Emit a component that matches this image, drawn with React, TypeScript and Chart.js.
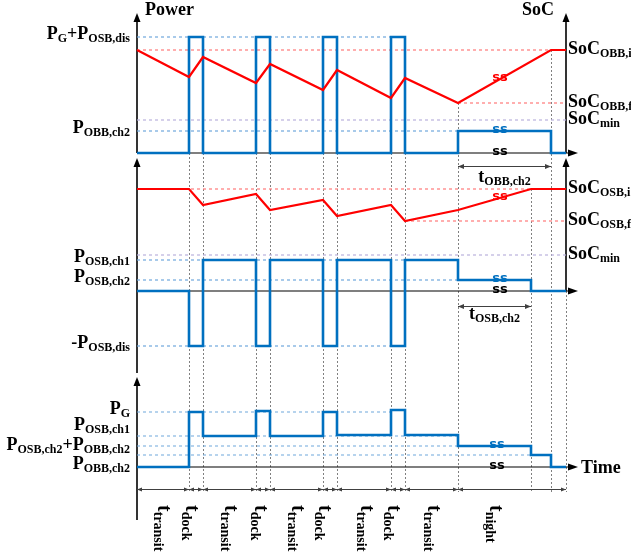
import React, { useEffect, useRef } from 'react';
import { Chart, registerables } from 'chart.js';
Chart.register(...registerables);

// ---------- DATA ----------
// boundaries of the operating phases (time units, 0 = start of first transit)
const eventTimes = [0, 52, 66, 119, 133, 186, 200, 254, 268, 321, 394, 414, 429];
// power held during each interval eventTimes[i] -> eventTimes[i+1]
const obbPower = [0, 116, 0, 116, 0, 116, 0, 116, 0, 22, 22, 0];
const osbPower = [0, -55, 31, -55, 31, -55, 31, -55, 31, 11, 0, 0];
const gridPower = [0, 55, 31, 56, 31, 55, 32, 57, 32, 21, 12, 0];
// state of charge traces
const obbSocTimes = [0, 52, 66, 119, 133, 186, 200, 254, 268, 321, 414, 429];
const obbSoc = [103, 76, 96, 70, 89, 63, 83, 55, 75, 50, 103, 103];
const osbSocTimes = [0, 52, 66, 119, 133, 186, 200, 254, 268, 321, 394, 429];
const osbSoc = [102, 102, 86, 97, 81, 91, 75, 86, 70, 81, 102, 102];

// dashed reference levels
const refPanel = [1, 1, 1, 1, 1, 2, 2, 2, 2, 2, 2, 3, 3, 3, 3];
const refValue = [116, 103, 33, 22, 50, 102, 70, 36, 31, 11, -55, 55, 31, 21, 12];
const refStart = [0, 0, 0, 0, 321, 0, 268, 0, 0, 0, 0, 0, 0, 0, 0];
const refEnd = [268, 429, 429, 321, 429, 429, 429, 429, 321, 321, 254, 254, 321, 321, 394];
const refKind = ['p', 's', 'm', 'p', 's', 's', 's', 'm', 'p', 'p', 'p', 'p', 'p', 'p', 'p'];

// tick labels
const leftLabelText = ['P_{G}+P_{OSB,dis}', 'P_{OBB,ch2}', 'P_{OSB,ch1}', 'P_{OSB,ch2}', '-P_{OSB,dis}', 'P_{G}', 'P_{OSB,ch1}', 'P_{OSB,ch2}+P_{OBB,ch2}', 'P_{OBB,ch2}'];
const leftLabelPanel = [1, 1, 2, 2, 2, 3, 3, 3, 3];
const leftLabelValue = [116, 22, 31, 11, -55, 55, 39, 19, 0];
const rightLabelText = ['SoC_{OBB,i}', 'SoC_{OBB,f}', 'SoC_{min}', 'SoC_{OSB,i}', 'SoC_{OSB,f}', 'SoC_{min}'];
const rightLabelPanel = [1, 1, 1, 2, 2, 2];
const rightLabelValue = [103, 50, 33, 102, 70, 36];
const timeLabelText = ['t_{transit}', 't_{dock}', 't_{transit}', 't_{dock}', 't_{transit}', 't_{dock}', 't_{transit}', 't_{dock}', 't_{transit}', 't_{night}'];
const timeLabelT = [26, 54, 93, 123, 160, 187, 229, 256, 296, 358];
const dimBounds = [0, 52, 66, 119, 133, 186, 200, 254, 268, 321, 429];
const guideTimes = [52, 66, 119, 133, 186, 200, 254, 268, 321, 394, 414, 429];
const guideFromPanel = [1, 1, 1, 1, 1, 1, 1, 1, 1, 2, 1, 2];
const guideFromValue = [0, 0, 0, 0, 0, 0, 0, 0, 50, 102, 103, 0];
const breakPanel = [1, 1, 1, 2, 2, 2, 3, 3];
const breakT = [363, 363, 363, 363, 363, 363, 360, 360];
const breakValue = [74, 22, 0, 93, 11, 0, 21, 0];
const breakKind = ['r', 'b', 'k', 'r', 'b', 'k', 'b', 'k'];

// ---------- STYLE ----------
const RED = '#ff0000';
const BLUE = '#0070c0';
const DASH_COL: Record<string, string> = { p: '#6fa8dc', s: '#ff7a7a', m: '#b9b2dc' };
const SERIF = "'Liberation Serif', 'Times New Roman', serif";
const END_T = 429;
const ARROW_T = 441;

function stepPoints(vals: number[]) {
  const pts = vals.map((v, i) => ({ x: eventTimes[i], y: v }));
  pts.push({ x: eventTimes[eventTimes.length - 1], y: vals[vals.length - 1] });
  return pts;
}
function linePoints(ts: number[], vs: number[]) {
  return ts.map((t, i) => ({ x: t, y: vs[i] }));
}

type Seg = { t: string; sub: boolean };
function parse(s: string): Seg[] {
  const out: Seg[] = [];
  const re = /_\{([^}]*)\}/g;
  let last = 0;
  let m: RegExpExecArray | null;
  while ((m = re.exec(s))) {
    if (m.index > last) out.push({ t: s.slice(last, m.index), sub: false });
    out.push({ t: m[1], sub: true });
    last = m.index + m[0].length;
  }
  if (last < s.length) out.push({ t: s.slice(last), sub: false });
  return out;
}
function drawRich(ctx: CanvasRenderingContext2D, text: string, x: number, y: number, align: string, mainPx: number, subPx: number, subDy: number) {
  const segs = parse(text);
  const main = `bold ${mainPx}px ${SERIF}`;
  const sub = `bold ${subPx}px ${SERIF}`;
  let w = 0;
  for (const s of segs) { ctx.font = s.sub ? sub : main; w += ctx.measureText(s.t).width; }
  let cx = align === 'right' ? x - w : align === 'center' ? x - w / 2 : x;
  ctx.textAlign = 'left';
  ctx.textBaseline = 'alphabetic';
  for (const s of segs) {
    ctx.font = s.sub ? sub : main;
    ctx.fillText(s.t, cx, s.sub ? y + subDy : y);
    cx += ctx.measureText(s.t).width;
  }
}
function head(ctx: CanvasRenderingContext2D, x: number, y: number, dx: number, dy: number, len: number, half: number) {
  ctx.beginPath();
  ctx.moveTo(x, y);
  ctx.lineTo(x - dx * len - dy * half, y - dy * len + dx * half);
  ctx.lineTo(x - dx * len + dy * half, y - dy * len - dx * half);
  ctx.closePath();
  ctx.fill();
}

const diagramPlugin = {
  id: 'diagram',
  beforeDatasetsDraw(chart: any) {
    const ctx: CanvasRenderingContext2D = chart.ctx;
    const X = (t: number) => chart.scales.x.getPixelForValue(t);
    const Y = (p: number, v: number) => chart.scales['p' + p].getPixelForValue(v);
    ctx.save();
    // vertical guides
    ctx.strokeStyle = '#808080';
    ctx.lineWidth = 1;
    ctx.setLineDash([2, 2]);
    const yb = Y(3, -25);
    guideTimes.forEach((t, i) => {
      const x = Math.round(X(t)) + 0.5;
      ctx.beginPath();
      ctx.moveTo(x, Y(guideFromPanel[i], guideFromValue[i]));
      ctx.lineTo(x, yb);
      ctx.stroke();
    });
    ctx.setLineDash([]);
    // axes
    ctx.strokeStyle = '#000';
    ctx.fillStyle = '#000';
    const x0 = X(0);
    const xr = X(END_T);
    const xa = X(ARROW_T);
    const vAxes: [number, number, number, number][] = [
      [x0, Y(1, 0), Y(1, 140), 1.6], [x0, Y(2, -82), Y(2, 133), 1.6], [x0, Y(3, -53), Y(3, 90), 1.6],
      [xr, Y(1, 0), Y(1, 140), 1.6], [xr, Y(2, 0), Y(2, 133), 1.6],
    ];
    for (const [x, yA, yB, lw] of vAxes) {
      ctx.lineWidth = lw;
      ctx.beginPath(); ctx.moveTo(x, yA); ctx.lineTo(x, yB + 6); ctx.stroke();
      head(ctx, x, yB, 0, -1, 9, 3.5);
    }
    for (const p of [1, 2, 3]) {
      const y = Y(p, 0);
      ctx.lineWidth = 1.2;
      ctx.beginPath(); ctx.moveTo(x0, y); ctx.lineTo(xa - 6, y); ctx.stroke();
      head(ctx, xa, y, 1, 0, 10, 3.5);
    }
    // dimension lines
    ctx.strokeStyle = '#404040';
    ctx.fillStyle = '#404040';
    ctx.lineWidth = 1;
    const yd = Math.round(Y(3, -22)) + 0.5;
    ctx.beginPath(); ctx.moveTo(X(dimBounds[0]), yd); ctx.lineTo(X(dimBounds[dimBounds.length - 1]), yd); ctx.stroke();
    for (let i = 0; i < dimBounds.length - 1; i++) {
      head(ctx, X(dimBounds[i]), yd, -1, 0, 5, 2);
      head(ctx, X(dimBounds[i + 1]), yd, 1, 0, 5, 2);
    }
    const dims: [number, number, number, number][] = [[1, -13, 321, 414], [2, -15, 321, 394]];
    for (const [p, v, a, b] of dims) {
      const y = Math.round(Y(p, v)) + 0.5;
      ctx.beginPath(); ctx.moveTo(X(a), y); ctx.lineTo(X(b), y); ctx.stroke();
      head(ctx, X(a), y, -1, 0, 6, 2.5);
      head(ctx, X(b), y, 1, 0, 6, 2.5);
    }
    ctx.restore();
  },
  afterDatasetsDraw(chart: any) {
    const ctx: CanvasRenderingContext2D = chart.ctx;
    const X = (t: number) => chart.scales.x.getPixelForValue(t);
    const Y = (p: number, v: number) => chart.scales['p' + p].getPixelForValue(v);
    ctx.save();
    // break marks
    breakT.forEach((t, i) => {
      ctx.fillStyle = breakKind[i] === 'r' ? RED : breakKind[i] === 'b' ? BLUE : '#000';
      ctx.font = "bold 13px 'DejaVu Sans', sans-serif";
      ctx.textAlign = 'center';
      ctx.textBaseline = 'middle';
      ctx.fillText('ss', X(t), Y(breakPanel[i], breakValue[i]) - 1);
    });
    ctx.fillStyle = '#000';
    // headings
    drawRich(ctx, 'Power', X(8), Y(1, 138), 'left', 18, 12, 3);
    drawRich(ctx, 'SoC', X(385), Y(1, 138), 'left', 18, 12, 3);
    drawRich(ctx, 'Time', X(444), Y(3, 0) + 6, 'left', 18, 12, 3);
    // left labels
    leftLabelText.forEach((s, i) => {
      drawRich(ctx, s, X(0) - 7, Y(leftLabelPanel[i], leftLabelValue[i]) + 2, 'right', 18, 12, 3);
    });
    // right labels
    rightLabelText.forEach((s, i) => {
      drawRich(ctx, s, X(END_T) + 2, Y(rightLabelPanel[i], rightLabelValue[i]) + 4, 'left', 18, 12, 3);
    });
    // duration labels
    drawRich(ctx, 't_{OBB,ch2}', X((321 + 414) / 2), Y(1, -29), 'center', 18, 12, 3);
    drawRich(ctx, 't_{OSB,ch2}', X((321 + 394) / 2), Y(2, -28), 'center', 18, 12, 3);
    // rotated time labels
    timeLabelText.forEach((s, i) => {
      ctx.save();
      ctx.translate(X(timeLabelT[i]) - 5, Y(3, -38));
      ctx.rotate(Math.PI / 2);
      drawRich(ctx, s, 0, 0, 'left', 20, 14, 4);
      ctx.restore();
    });
    ctx.restore();
  },
};

export default function App() {
  const ref = useRef<HTMLCanvasElement>(null);
  useEffect(() => {
    const refSets = refValue.map((v, i) => ({
      data: [{ x: refStart[i], y: v }, { x: refEnd[i], y: v }],
      yAxisID: 'p' + refPanel[i],
      borderColor: DASH_COL[refKind[i]],
      borderWidth: 1.2,
      borderDash: [3, 3],
      showLine: true,
      pointRadius: 0,
      order: 10,
    }));
    const chart = new Chart(ref.current as HTMLCanvasElement, {
      type: 'scatter',
      data: {
        datasets: [
          { data: linePoints(obbSocTimes, obbSoc), yAxisID: 'p1', borderColor: RED, borderWidth: 2.2, showLine: true, pointRadius: 0, order: 0 },
          { data: linePoints(osbSocTimes, osbSoc), yAxisID: 'p2', borderColor: RED, borderWidth: 2.2, showLine: true, pointRadius: 0, order: 0 },
          { data: stepPoints(obbPower), yAxisID: 'p1', borderColor: BLUE, borderWidth: 2.6, showLine: true, stepped: true, pointRadius: 0, order: 1 },
          { data: stepPoints(osbPower), yAxisID: 'p2', borderColor: BLUE, borderWidth: 2.6, showLine: true, stepped: true, pointRadius: 0, order: 1 },
          { data: stepPoints(gridPower), yAxisID: 'p3', borderColor: BLUE, borderWidth: 2.6, showLine: true, stepped: true, pointRadius: 0, order: 1 },
          ...refSets,
        ] as any,
      },
      options: {
        animation: false,
        responsive: false,
        devicePixelRatio: 1,
        layout: { padding: 0, autoPadding: false } as any,
        plugins: { legend: { display: false }, tooltip: { enabled: false } },
        scales: {
          x: { type: 'linear', min: -137, max: 494, display: false },
          p1: { type: 'linear', position: 'left', min: -406, max: 153, display: false },
          p2: { type: 'linear', position: 'left', min: -268, max: 291, display: false },
          p3: { type: 'linear', position: 'left', min: -92, max: 467, display: false },
        },
      } as any,
      plugins: [diagramPlugin],
    });
    return () => chart.destroy();
  }, []);
  return (
    <div style={{ position: 'fixed', left: 0, top: 0, width: 631, height: 559, background: '#fff' }}>
      <canvas ref={ref} width={631} height={559} style={{ width: 631, height: 559, display: 'block' }} />
    </div>
  );
}
